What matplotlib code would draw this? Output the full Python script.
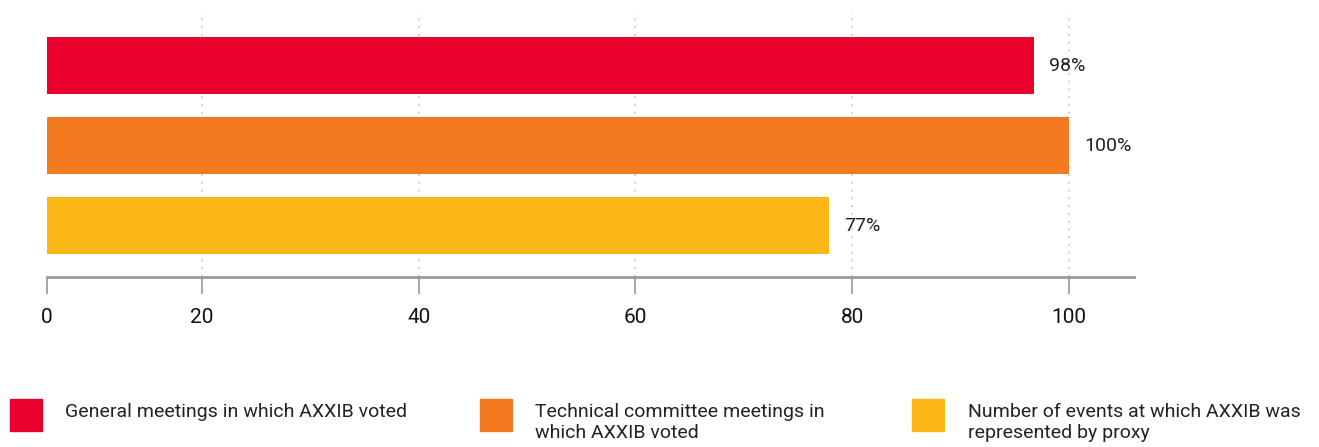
import matplotlib.pyplot as plt
from matplotlib.patches import Rectangle

plt.rcParams['font.family'] = ['Roboto', 'DejaVu Sans']

categories = ["General meetings in which AXXIB voted",
              "Technical committee meetings in\nwhich AXXIB voted",
              "Number of events at which AXXIB was\nrepresented by proxy"]
values = [96.8, 100, 77.9]
value_labels = ["98%", "100%", "77%"]
colors = ["#E9002C", "#F47A22", "#FBB816"]
grid_ticks = [20, 40, 60, 80, 100]
tick_labels = ["0", "20", "40", "60", "80", "100"]

# the source axis starts a little above zero, its first tick is still called 0
x_start = 5.7
x_end = 106.0

W, H = 1319, 447
fig = plt.figure(figsize=(W / 100, H / 100), dpi=100)
ax = fig.add_axes([47 / W, 1 - 277 / H, (1134 - 47) / W, (277 - 12) / H])

ypos = list(range(len(values)))
ax.barh(ypos, values, height=0.71, color=colors, zorder=3)
for y, v, lab in zip(ypos, values, value_labels):
    ax.text(v + 1.4, y, lab, va='center', ha='left', fontsize=14, color='#222222')

ax.set_xlim(x_start, x_end)
ax.set_ylim(2.64, -0.67)
ax.set_yticks([])
ax.set_xticks([x_start] + grid_ticks, tick_labels)
ax.tick_params(axis='x', length=12, width=1.2, color='#999999', labelsize=15,
               labelcolor='#111111', pad=10)
for x in grid_ticks:
    ax.axvline(x, color='#d2d2d2', linestyle=(0, (1, 3)), linewidth=1.4, zorder=1)
for s in ['top', 'right', 'left']:
    ax.spines[s].set_visible(False)
ax.spines['bottom'].set_color('#999999')
ax.spines['bottom'].set_linewidth(2)

# legend at the bottom
sq_x = [10, 480, 912]
txt_x = [65, 535, 968]
for cat, c, sx, tx in zip(categories, colors, sq_x, txt_x):
    fig.patches.append(Rectangle((sx / W, 1 - 431 / H), 32 / W, 32 / H,
                                 transform=fig.transFigure, color=c))
    fig.text(tx / W, 1 - 403 / H, cat, ha='left', va='top', fontsize=14,
             color='#222222', linespacing=1.2)

fig.savefig('out.png', dpi=100)
